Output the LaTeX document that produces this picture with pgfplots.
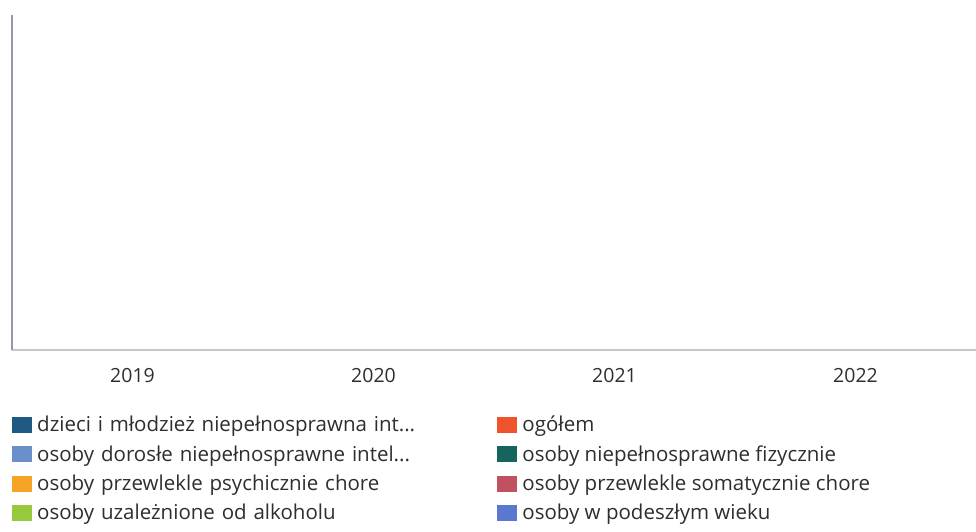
\documentclass[border=0pt]{standalone}
\usepackage{pgfplots}
\pgfplotsset{compat=1.18}
\usepackage{fontspec}
\setmainfont{Open Sans}
\definecolor{c1}{HTML}{1F5A85}
\definecolor{c2}{HTML}{6B8FCB}
\definecolor{c3}{HTML}{F7A325}
\definecolor{c4}{HTML}{97C93D}
\definecolor{c5}{HTML}{F0522B}
\definecolor{c6}{HTML}{17645F}
\definecolor{c7}{HTML}{C0525F}
\definecolor{c8}{HTML}{5B78D0}
\definecolor{txt}{HTML}{2E2E2E}
\definecolor{yax}{HTML}{9696B4}
\begin{document}
\begin{tikzpicture}
\path[use as bounding box] (0pt,0pt) rectangle (976pt,531pt);
\begin{axis}[
  at={(12pt,181pt)}, anchor=south west, scale only axis,
  width=964pt, height=335pt,
  xmin=-0.5, xmax=3.5, ymin=0, ymax=1,
  axis x line=bottom, axis y line=left,
  axis line style={-},
  x axis line style={draw=black!22, line width=1.5pt},
  y axis line style={draw=yax, line width=1.8pt},
  xtick={0,1,2,3}, xticklabels={2019,2020,2021,2022},
  ytick=\empty, major tick length=0pt,
  x tick label style={font=\fontsize{19.5}{22}\selectfont, text=txt, yshift=-15pt},
  legend columns=2,
  legend style={at={(0,0)}, anchor=north west, yshift=-64pt,
    draw=none, fill=none, inner sep=0pt, outer sep=0pt,
    font=\fontsize{20.5}{24}\selectfont, text=txt,
    row sep=8.2pt, cells={anchor=west},
    /tikz/column 2/.style={nodes={text width=458pt}}},
  legend image code/.code={\path[draw=none,fill=none] (0pt,0pt) -- (23pt,0pt);\fill[#1] (0pt,-7.5pt) rectangle (19pt,7.5pt);},
]
\addlegendimage{c1}\addlegendentry{dzieci i młodzież niepełnosprawna int...}
\addlegendimage{c5}\addlegendentry{ogółem}
\addlegendimage{c2}\addlegendentry{osoby dorosłe niepełnosprawne intel...}
\addlegendimage{c6}\addlegendentry{osoby niepełnosprawne fizycznie}
\addlegendimage{c3}\addlegendentry{osoby przewlekle psychicznie chore}
\addlegendimage{c7}\addlegendentry{osoby przewlekle somatycznie chore}
\addlegendimage{c4}\addlegendentry{osoby uzależnione od alkoholu}
\addlegendimage{c8}\addlegendentry{osoby w podeszłym wieku}
\end{axis}
\end{tikzpicture}
\end{document}
